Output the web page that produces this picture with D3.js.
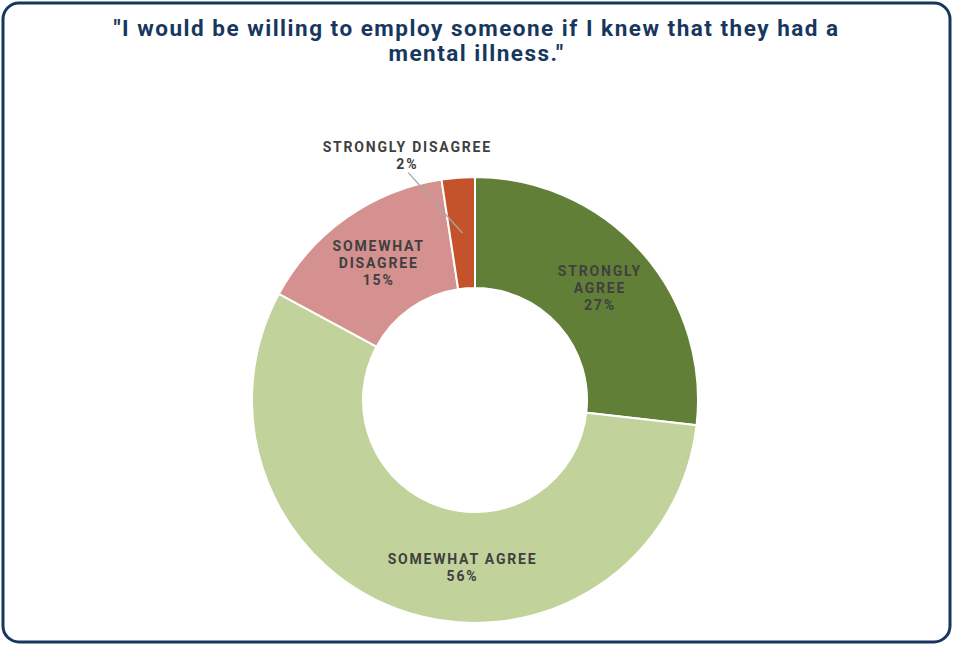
<!DOCTYPE html>
<html>
<head>
<meta charset="utf-8">
<script src="https://cdn.jsdelivr.net/npm/d3@7"></script>
<style>
  body { margin: 0; background: #fff; }
  svg { display: block; }
</style>
</head>
<body>
<script>
const width = 953;
const height = 645;

// data (slice shares in %)
const categories = ["STRONGLY AGREE", "SOMEWHAT AGREE", "SOMEWHAT DISAGREE", "STRONGLY DISAGREE"];
const values = [26.8, 56.1, 14.7, 2.4];
const labelLines = [["STRONGLY", "AGREE"], ["SOMEWHAT AGREE"], ["SOMEWHAT", "DISAGREE"], ["STRONGLY DISAGREE"]];
const colors = ["#617f37", "#c2d29b", "#d4918f", "#c4532c"];
const titleLines = ["\"I would be willing to employ someone if I knew that they had a", "mental illness.\""];

const cx = 475, cy = 400;
const outerR = 223, innerR = 112;
const fontFamily = "Roboto, 'Open Sans', sans-serif";

const svg = d3.select("body")
    .append("svg")
    .attr("width", width)
    .attr("height", height);

// frame
svg.append("rect")
    .attr("x", 3)
    .attr("y", 3)
    .attr("width", width - 6)
    .attr("height", height - 6)
    .attr("rx", 16)
    .attr("fill", "#fff")
    .attr("stroke", "#17375e")
    .attr("stroke-width", 3);

// title, two lines like the original
svg.append("text")
    .attr("text-anchor", "middle")
    .attr("font-family", fontFamily)
    .attr("font-weight", "bold")
    .attr("font-size", 22.5)
    .attr("letter-spacing", 1.5)
    .attr("fill", "#17375e")
    .selectAll("tspan")
    .data(titleLines)
    .join("tspan")
    .attr("x", width / 2)
    .attr("y", (d, i) => 36 + i * 25)
    .text(d => d);

const pie = d3.pie().sort(null).value(d => d);
const arcs = pie(values);

const arc = d3.arc().innerRadius(innerR).outerRadius(outerR);

const g = svg.append("g")
    .attr("transform", "translate(" + cx + "," + cy + ")");

g.selectAll("path")
    .data(arcs)
    .join("path")
    .attr("d", arc)
    .attr("fill", (d, i) => colors[i])
    .attr("stroke", "#fff")
    .attr("stroke-width", 2);

// label placement: angle nudge (rad) for each slice
const nudge = [0, -0.23, 0, 0];
const labelFont = 14;
const lineGap = 17;

arcs.forEach((d, i) => {
    const pct = Math.round(values[i]) + "%";
    const lines = labelLines[i].concat([pct]);
    const c = arc.centroid(d);
    let lx, ly;
    if (i === 3) {
        // outside label with leader line
        const a = (d.startAngle + d.endAngle) / 2 - 0.21;
        const r = outerR + 14;
        const ax = r * Math.sin(a);
        const ay = -r * Math.cos(a);
        g.append("line")
            .attr("x1", c[0])
            .attr("y1", c[1])
            .attr("x2", ax)
            .attr("y2", ay)
            .attr("stroke", "#a6a6a6")
            .attr("stroke-width", 1.3);
        lx = ax - 1;
        ly = ay - 21 - 5;
    } else {
        const a = (d.startAngle + d.endAngle) / 2 + nudge[i];
        const r = (innerR + outerR) / 2;
        lx = r * Math.sin(a);
        ly = -r * Math.cos(a) - (lines.length - 1) * lineGap / 2;
    }
    g.append("text")
        .attr("text-anchor", "middle")
        .attr("font-family", fontFamily)
        .attr("font-weight", "bold")
        .attr("font-size", labelFont)
        .attr("letter-spacing", 1.8)
        .attr("fill", "#404040")
        .selectAll("tspan")
        .data(lines)
        .join("tspan")
        .attr("x", lx)
        .attr("y", (t, k) => ly + k * lineGap + 5)
        .text(t => t);
});
</script>
</body>
</html>
